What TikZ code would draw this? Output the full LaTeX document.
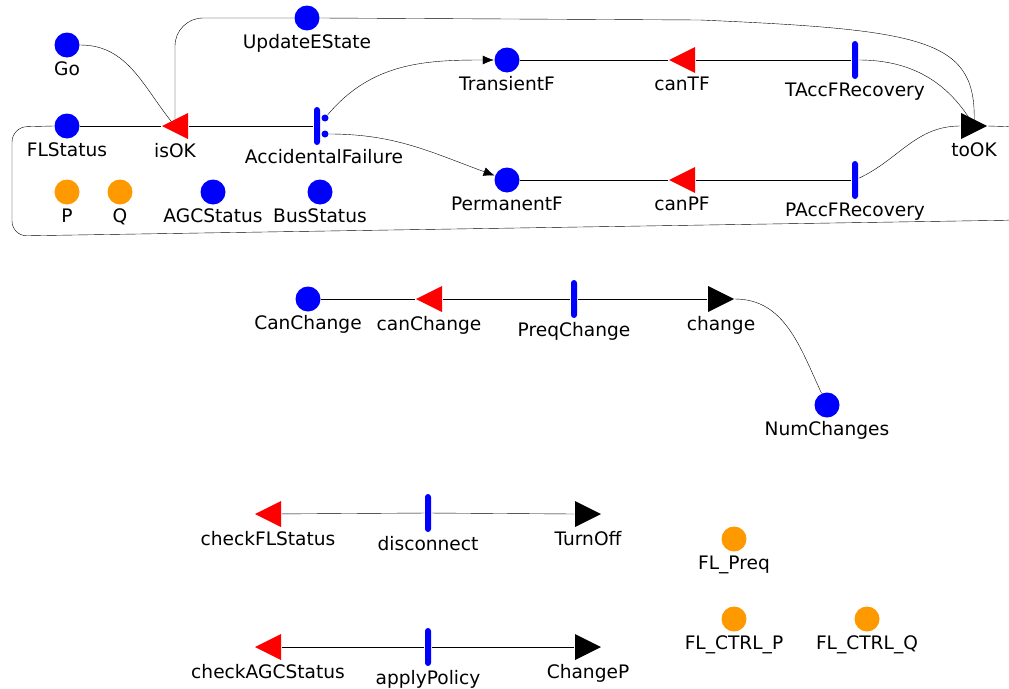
\documentclass[tikz,border=0pt]{standalone}
\usepackage{fontspec}
\setmainfont{DejaVu Sans}
\usetikzlibrary{arrows.meta,backgrounds}
\definecolor{tokorange}{RGB}{255,153,0}

\begin{document}
\begin{tikzpicture}[x=1pt, y=-1pt, line width=1.5pt,
    font=\fontsize{18.6}{22}\selectfont,
    every label/.style={inner sep=2.5pt},
    place/.style={circle, fill=blue, minimum size=25, inner sep=0},
    param/.style={place, fill=tokorange},
    dot/.style={circle, fill=blue, minimum size=7, inner sep=0},
    bar/.style={rectangle, fill=blue, rounded corners=3, minimum width=6, minimum height=38, inner sep=0},
    guard/.style={rectangle, minimum width=26, minimum height=26, inner sep=0,
        path picture={\fill[red] (path picture bounding box.north east) -- (path picture bounding box.south east) -- (path picture bounding box.west) -- cycle;}},
    act/.style={rectangle, minimum width=26, minimum height=26, inner sep=0,
        path picture={\fill[black] (path picture bounding box.north west) -- (path picture bounding box.south west) -- (path picture bounding box.east) -- cycle;}},
    arr/.style={-{Latex[length=11pt,width=9pt]}}]

    \useasboundingbox (0,0) rectangle (1009,688);

    \node[place, label=below:Go] (go) at (67, 45) {};
    \node[place, label=below:UpdateEState] (upd) at (307, 18) {};
    \node[place, label=below:FLStatus] (fls) at (67, 126) {};
    \node[guard, label=below:isOK] (isok) at (175, 126) {};
    \node[bar, label={[xshift=7]below:AccidentalFailure}] (accf) at (317, 126) {};
    \node[dot] (afa) at (325, 118) {};
    \node[dot] (afb) at (325, 134) {};
    \node[place, label=below:TransientF] (transf) at (507, 60) {};
    \node[guard, label=below:canTF] (cantf) at (682, 60) {};
    \node[bar, label=below:TAccFRecovery] (taccf) at (855, 60) {};
    \node[place, label=below:PermanentF] (permf) at (507, 180) {};
    \node[guard, label=below:canPF] (canpf) at (682, 180) {};
    \node[bar, label=below:PAccFRecovery] (paccf) at (855, 180) {};
    \node[act, label=below:toOK] (took) at (974, 126) {};
    \node[param, label=below:P] (p) at (67, 192) {};
    \node[param, label=below:Q] (q) at (120, 192) {};
    \node[place, label=below:AGCStatus] (agc) at (213, 192) {};
    \node[place, label=below:BusStatus] (bus) at (320, 192) {};

    \node[place, label=below:CanChange] (canch) at (308, 299) {};
    \node[guard, label=below:canChange] (gcanch) at (429, 299) {};
    \node[bar, label=below:PreqChange] (preq) at (574, 299) {};
    \node[act, label=below:change] (chg) at (721, 299) {};
    \node[place, label=below:NumChanges] (numch) at (827, 405) {};

    \node[guard, label=below:checkFLStatus] (chkfl) at (268, 514) {};
    \node[bar, label=below:disconnect] (disc) at (428, 513) {};
    \node[act, label=below:TurnOff] (toff) at (588, 514) {};
    \node[guard, label=below:checkAGCStatus] (chkagc) at (268, 647) {};
    \node[bar, label=below:applyPolicy] (apply) at (428, 647) {};
    \node[act, label=below:ChangeP] (chp) at (588, 647) {};

    \node[param, label=below:FL\_Preq] (flpreq) at (734, 539) {};
    \node[param, label=below:FL\_CTRL\_P] (flp) at (734, 619) {};
    \node[param, label=below:FL\_CTRL\_Q] (flq) at (867, 619) {};

    \begin{pgfonlayer}{background}
    \draw (fls) -- (isok.west);
    \draw (isok) -- (accf);
    \draw (go.east) to[out=0, in=130] (isok.center);
    \draw[rounded corners=28] (isok.center) |- (upd.west);
    \draw (upd.east) -- (700, 20) .. controls (930, 30) and (978, 40) .. (took.center);
    \draw[arr] (afa) to[out=50, in=180] (transf);
    \draw[arr] (afb) to[out=0, in=160] (permf);
    \draw (transf) -- (cantf.west);
    \draw (cantf) -- (taccf);
    \draw (taccf) to[out=0, in=120] (took.center);
    \draw (permf) -- (canpf.west);
    \draw (canpf) -- (paccf);
    \draw (paccf) to[out=25, in=180] (took.west);
    \draw[rounded corners=15] (took.east) -- (1022, 127) -- (1022, 220) -- (12, 236) -- (12, 127) -- (fls.west);

    \draw (canch) -- (gcanch.west);
    \draw (gcanch) -- (preq);
    \draw (preq) -- (chg.west);
    \draw (chg.east) to[out=0, in=115] (numch);

    \draw (chkfl) -- (disc);
    \draw (disc) -- (toff.west);
    \draw (chkagc) -- (apply);
    \draw (apply) -- (chp.west);
    \end{pgfonlayer}

\end{tikzpicture}
\end{document}
